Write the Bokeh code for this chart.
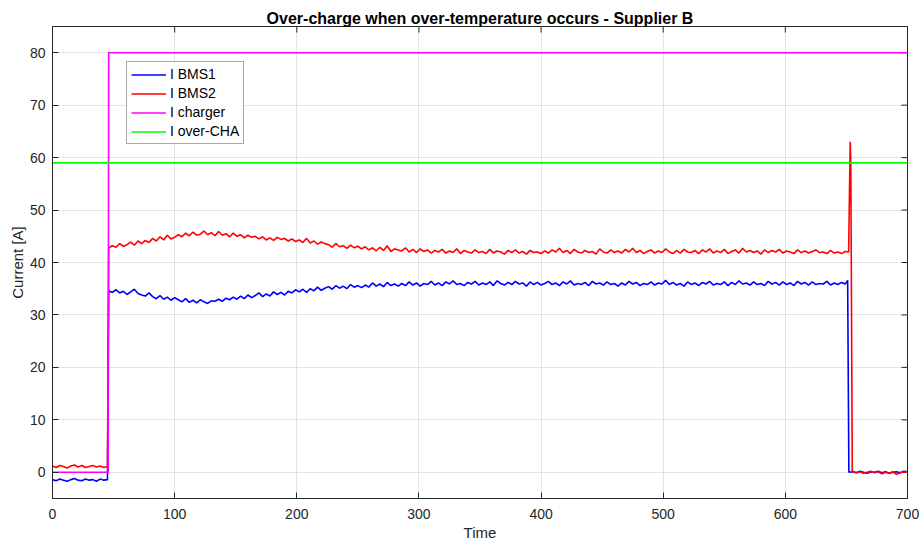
import numpy as np
from bokeh.plotting import figure
from bokeh.models import Range1d, FixedTicker, Legend, LegendItem
from bokeh.embed import file_html
from bokeh.resources import INLINE

# ---- sample times (s) ----
t_pre = np.arange(0, 46, 3)          # before charger switch-on
t_main = np.arange(46, 651, 3)       # charging phase
t_post = np.arange(655, 701, 3)      # after cut-off

# ---- BMS1 current (A) ----
bms1_pre = [-1.4, -1.6, -1.3, -1.5, -1.7, -1.4, -1.2, -1.5, -1.6, -1.3, -1.5, -1.4, -1.7, -1.3, -1.5, -1.4]
bms1_main = [
    34.6, 34.3, 34.8, 34.2, 34.5, 33.9, 34.4, 34.9, 34.1, 33.8,
    33.6, 34.2, 33.5, 33.1, 33.7, 33.0, 33.4, 32.8, 33.3, 32.9,
    32.5, 33.1, 32.4, 32.8, 32.3, 32.9, 32.5, 32.2, 32.7, 32.6,
    33.0, 32.6, 33.2, 32.9, 33.4, 33.0, 33.6, 33.1, 33.8, 33.3,
    33.7, 34.2, 33.5, 34.0, 33.6, 34.4, 33.9, 34.3, 33.8, 34.5,
    34.2, 34.8, 34.4, 34.9, 34.3, 35.0, 34.6, 35.3, 34.7, 35.1,
    35.4, 34.9, 35.6, 35.1, 35.5, 35.0, 35.8, 35.3, 35.6, 35.2,
    35.7, 35.3, 36.1, 35.5, 35.9, 35.4, 36.2, 35.6, 35.9, 35.5,
    36.0, 35.6, 36.3, 35.7, 36.1, 35.5, 36.0, 35.8, 36.4, 35.7,
    36.1, 35.6, 36.3, 35.9, 36.5, 35.8, 36.0, 35.6, 36.2, 35.9,
    36.4, 35.7, 36.1, 35.8, 36.3, 35.6, 36.5, 36.0, 35.7, 36.2,
    35.8, 36.4, 35.9, 36.1, 35.5, 36.3, 35.8, 36.2, 35.7, 36.0,
    36.4, 35.8, 36.1, 35.6, 36.3, 35.9, 36.5, 35.7, 36.0, 35.8,
    36.2, 35.6, 36.4, 35.9, 36.1, 35.7, 36.3, 35.8, 36.0, 35.5,
    36.1, 35.7, 36.4, 35.9, 36.2, 35.6, 36.0, 35.8, 36.3, 35.7,
    36.1, 35.9, 36.6, 35.8, 36.2, 35.7, 36.0, 35.5, 36.3, 35.8,
    36.1, 35.6, 36.2, 35.9, 36.4, 35.7, 36.0, 35.8, 36.3, 35.6,
    36.2, 35.8, 36.5, 35.9, 36.1, 35.7, 36.3, 35.8, 36.0, 35.6,
    36.4, 35.9, 36.2, 35.7, 36.3, 35.8, 36.1, 35.6, 36.4, 35.9,
    36.2, 35.7, 36.3, 35.8, 36.0, 35.9, 36.4, 35.7, 36.1, 35.8,
    36.2, 35.9,
]
bms1_cut_t = [651.0, 652.0]
bms1_cut = [36.6, 0.0]
bms1_post = [0.1, -0.1, 0.2, 0.0, -0.2, 0.1, 0.0, 0.2, -0.1, 0.1, -0.2, 0.0, 0.1, -0.1, 0.2, 0.1]

# ---- BMS2 current (A) ----
bms2_pre = [1.2, 0.9, 1.3, 1.1, 0.8, 1.2, 1.4, 1.0, 1.3, 0.9, 1.1, 1.3, 1.0, 1.2, 0.9, 1.1]
bms2_main = [
    42.8, 43.2, 42.9, 43.6, 43.1, 43.4, 43.9, 43.3, 44.1, 43.6,
    44.2, 43.8, 44.6, 44.1, 44.9, 44.3, 45.2, 44.5, 44.8, 45.3,
    44.9, 45.6, 45.1, 45.8, 45.2, 45.4, 46.0, 45.3, 45.7, 45.1,
    45.9, 45.2, 45.5, 44.9, 45.6, 45.0, 45.3, 44.7, 45.2, 44.8,
    45.0, 44.5, 44.9, 44.3, 44.7, 44.2, 44.8, 44.4, 44.6, 44.1,
    44.5, 44.0, 44.3, 43.8, 44.6, 43.7, 44.1, 43.5, 43.9, 43.6,
    43.4, 42.9, 43.6, 43.0, 43.2, 42.7, 43.3, 42.8, 43.1, 42.6,
    43.0, 42.4, 42.8, 42.2, 42.9, 42.3, 43.2, 42.1, 42.6, 42.4,
    42.2, 42.8, 42.0, 42.5, 41.9, 42.6, 42.1, 42.4, 41.8, 42.3,
    42.0, 42.5, 41.8, 42.2, 41.9, 42.6, 41.7, 42.3, 42.0, 41.8,
    42.4, 41.9, 42.1, 41.7, 42.5, 41.8, 42.2, 42.0, 41.6, 42.3,
    41.9, 42.4, 41.8, 42.1, 41.6, 42.3, 41.9, 42.0, 41.7, 42.2,
    41.8, 42.4, 42.0, 42.7, 41.9, 42.3, 41.7, 42.5, 42.0, 41.8,
    42.3, 41.9, 42.1, 41.6, 42.6, 42.0, 41.8, 42.4, 41.9, 42.2,
    41.8, 42.5, 42.0, 42.7, 41.9, 42.3, 41.7, 42.1, 42.4, 41.8,
    42.2, 41.9, 42.6, 42.0, 41.7, 42.3, 41.8, 42.5, 42.0, 41.9,
    42.3, 41.7, 42.4, 42.0, 42.6, 41.8, 42.2, 41.9, 42.5, 41.7,
    42.1, 42.4, 41.8, 42.7, 42.0, 42.3, 41.9, 42.2, 41.6, 42.4,
    41.9, 42.3, 42.0, 42.5, 41.8, 42.2, 42.0, 41.7, 42.4, 41.9,
    42.2, 41.8, 42.1, 42.4, 41.9, 42.0, 41.7, 42.3, 41.8, 42.0,
    41.7, 42.1,
]
bms2_cut_t = [651.8, 653.1, 653.6, 654.8]
bms2_cut = [42.0, 63.0, 58.5, 0.2]
bms2_post = [0.2, -0.1, 0.1, -0.2, 0.0, 0.2, -0.1, 0.1, -0.3, 0.0, -0.2, 0.1, -0.4, -0.1, 0.1, 0.0]

# ---- charger set-point and over-charge limit (A) ----
charger_t = [0, 45.6, 46.0, 700]
charger_i = [0, 0, 80, 80]
limit_t = [0, 700]
limit_i = [59, 59]

# ---- axes ----
x_lo, x_hi = 0, 700
y_lo, y_hi = -5, 85
x_ticks = list(range(0, 701, 100))
y_ticks = list(range(0, 81, 10))

t_bms1 = list(t_pre) + list(t_main) + bms1_cut_t + list(t_post)
i_bms1 = bms1_pre + bms1_main + bms1_cut + bms1_post
t_bms2 = list(t_pre) + list(t_main) + bms2_cut_t + list(t_post)
i_bms2 = bms2_pre + bms2_main + bms2_cut + bms2_post

FONT = "Liberation Sans"
AX = "#262626"

p = figure(width=920, height=545, output_backend="svg", toolbar_location=None,
           x_range=Range1d(x_lo, x_hi), y_range=Range1d(y_lo, y_hi),
           min_border_left=52, min_border_right=13, min_border_top=26, min_border_bottom=47,
           x_axis_label="Time", y_axis_label="Current [A]")
p.background_fill_color = "white"
p.border_fill_color = "white"
p.outline_line_color = AX
p.outline_line_width = 1

p.title.text = "Over-charge when over-temperature occurs - Supplier B"
p.title.align = "center"
p.title.text_font = FONT
p.title.text_font_size = "16px"
p.title.text_font_style = "bold"
p.title.text_color = "black"
p.title.standoff = 0

p.xaxis.ticker = FixedTicker(ticks=x_ticks)
p.yaxis.ticker = FixedTicker(ticks=y_ticks)

for g in (p.xgrid, p.ygrid):
    g.grid_line_color = "#e3e3e3"
    g.grid_line_width = 1

for ax in p.axis:
    ax.axis_line_color = AX
    ax.major_tick_line_color = AX
    ax.major_tick_in = 6
    ax.major_tick_out = 0
    ax.minor_tick_line_color = None
    ax.major_label_text_font = FONT
    ax.major_label_text_font_size = "14px"
    ax.major_label_text_color = AX
    ax.axis_label_text_font = FONT
    ax.axis_label_text_font_size = "15px"
    ax.axis_label_text_font_style = "normal"
    ax.axis_label_text_color = AX
p.xaxis.major_label_standoff = 10
p.xaxis.axis_label_standoff = 2
p.yaxis.major_label_standoff = 7
p.yaxis.axis_label_standoff = 1

# inward tick marks on the top and right edges of the box (clipped to the frame)
p.scatter(x_ticks, [y_hi] * len(x_ticks), marker="dash", angle=np.pi / 2, size=12,
          line_color=AX, line_width=1)
p.scatter([x_hi] * len(y_ticks), y_ticks, marker="dash", size=12,
          line_color=AX, line_width=1)

r1 = p.line(t_bms1, i_bms1, line_color="#0000ff", line_width=1.6)
r2 = p.line(t_bms2, i_bms2, line_color="#ff0000", line_width=1.6)
r3 = p.line(charger_t, charger_i, line_color="#ff00ff", line_width=1.6)
r4 = p.line(limit_t, limit_i, line_color="#00ff00", line_width=1.6)

legend = Legend(items=[
    LegendItem(label="I BMS1", renderers=[r1]),
    LegendItem(label="I BMS2", renderers=[r2]),
    LegendItem(label="I charger", renderers=[r3]),
    LegendItem(label="I over-CHA", renderers=[r4]),
], location=(74, 354))
legend.label_text_font = FONT
legend.label_text_font_size = "14px"
legend.label_text_color = "black"
legend.glyph_width = 35
legend.glyph_height = 15
legend.label_height = 15
legend.label_standoff = 4
legend.spacing = 3
legend.padding = 4
legend.margin = 0
legend.border_line_color = "#555555"
legend.border_line_width = 1
legend.background_fill_color = "white"
legend.background_fill_alpha = 1
p.add_layout(legend, "center")

open("out.html", "w").write(file_html(p, INLINE))
